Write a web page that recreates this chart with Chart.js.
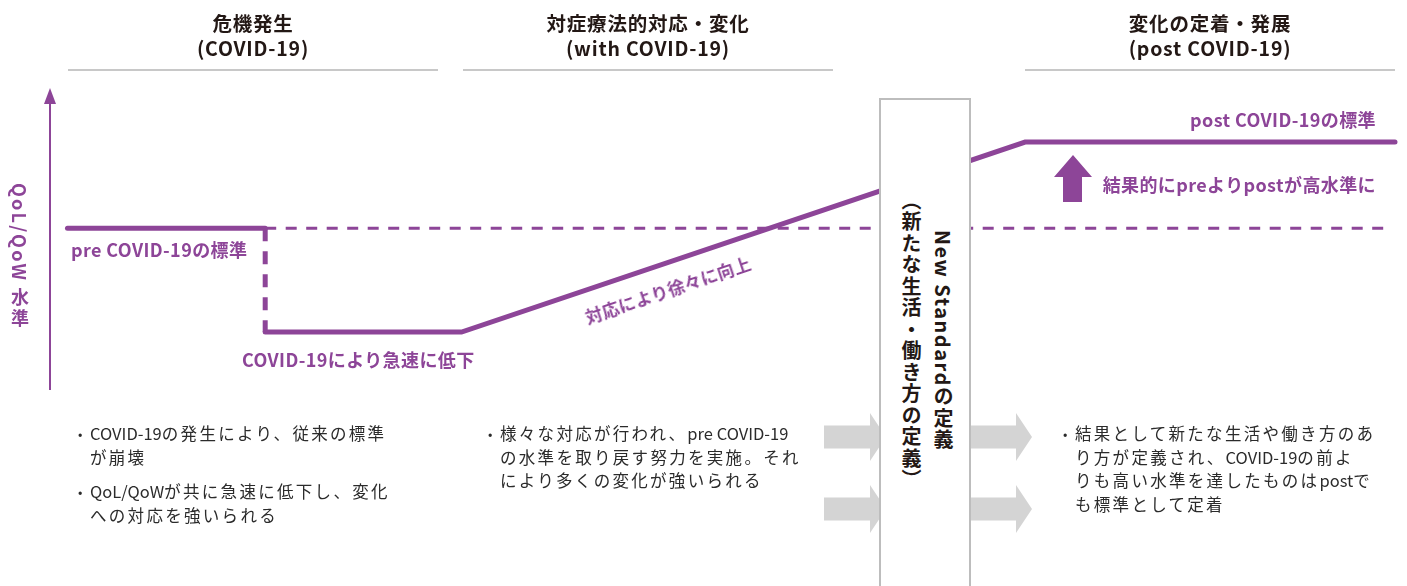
<!DOCTYPE html>
<html lang="ja">
<head>
<meta charset="utf-8">
<script src="https://cdn.jsdelivr.net/npm/chart.js@4"></script>
<style>
  body { margin: 0; background: #fff; }
  .stage { position: relative; width: 1407px; height: 586px; overflow: hidden; font-family: "Noto Sans CJK JP", sans-serif; }
  .stage canvas { position: absolute; left: 0; top: 0; }
  .phase { position: absolute; top: 10px; width: 370px; text-align: center; color: #231815; font-weight: 700; font-size: 19.5px; line-height: 25px; letter-spacing: 0.8px; }
  .phase-rule { position: absolute; top: 69px; width: 370px; height: 2px; background: #c8c8c8; }
  .note { position: absolute; top: 422px; color: #2b2b2b; font-size: 16.5px; line-height: 23.5px; letter-spacing: 2.3px; white-space: pre; }
  .note p { margin: 0 0 11px 0; padding-left: 12px; position: relative; }
  .note p::before { content: "•"; position: absolute; left: 0; top: 0; font-size: 13px; }
  .note .lat { letter-spacing: 0; }
  .label { position: absolute; color: #8d4598; font-weight: 700; font-size: 18px; line-height: 20px; letter-spacing: 0.4px; white-space: nowrap; }
  .box { position: absolute; left: 879px; top: 98px; width: 92px; height: 520px; box-sizing: border-box; border: 2px solid #bdbdbd; background: #fff; }
  .box-text { position: absolute; left: 14px; top: 88px; height: 305px; writing-mode: vertical-rl; text-align: center; color: #231815; font-weight: 700; font-size: 20px; line-height: 32px; letter-spacing: 1.5px; white-space: nowrap; }
  .ylab { position: absolute; left: 10px; top: 183px; writing-mode: vertical-rl; color: #8d4598; font-weight: 700; font-size: 18px; line-height: 20px; letter-spacing: 2.2px; white-space: nowrap; }
</style>
</head>
<body>
<div class="stage" id="stage">
  <canvas id="qolChart"></canvas>
</div>
<script>
// phases along the top
const phaseTitles = ['危機発生', '対症療法的対応・変化', '変化の定着・発展'];
const phaseSubtitles = ['(COVID-19)', '(with COVID-19)', '(post COVID-19)'];
const phaseLeft = [68, 463, 1025];

// QoL/QoW path: time (0-100) vs level (0-100)
const stageX = [1.3, 16, 16, 30.6, 72.5, 100];
const qolLevel = [53.6, 53.6, 19.2, 19.2, 82.1, 82.1];

// pre COVID-19 reference level (dashed)
const preLineX = [16, 99.3];
const preLineY = [53.6, 53.6];

const phaseNotes = [
    ['COVID-19の発生により、従来の標準\nが崩壊', 'QoL/QoWが共に急速に低下し、変化\nへの対応を強いられる'],
    ['様々な対応が行われ、pre COVID-19\nの水準を取り戻す努力を実施。それ\nにより多くの変化が強いられる'],
    ['結果として新たな生活や働き方のあ\nり方が定義され、COVID-19の前よ\nりも高い水準を達したものはpostで\nも標準として定着']
];
const noteLeft = [78, 488, 1063];

const purple = '#8d4598';
const stage = document.getElementById('stage');

phaseTitles.forEach((title, i) => {
    const head = document.createElement('div');
    head.className = 'phase';
    head.style.left = phaseLeft[i] + 'px';
    head.innerHTML = title + '<br>' + phaseSubtitles[i];
    stage.appendChild(head);

    const rule = document.createElement('div');
    rule.className = 'phase-rule';
    rule.style.left = phaseLeft[i] + 'px';
    stage.appendChild(rule);

    const note = document.createElement('div');
    note.className = 'note';
    note.style.left = noteLeft[i] + 'px';
    phaseNotes[i].forEach(txt => {
        const p = document.createElement('p');
        // latin runs keep tight spacing, kana/kanji get the wider pitch
        p.innerHTML = txt.replace(/[A-Za-z0-9\-\/ ]+/g, m => '<span class="lat">' + m + '</span>');
        note.appendChild(p);
    });
    stage.appendChild(note);
});

const addLabel = (text, css) => {
    const el = document.createElement('div');
    el.className = 'label';
    el.textContent = text;
    Object.assign(el.style, css);
    stage.appendChild(el);
    return el;
};

addLabel('pre COVID-19の標準', { left: '71px', top: '239px' });
addLabel('COVID-19により急速に低下', { left: '242px', top: '349px' });
addLabel('post COVID-19の標準', { right: '31px', top: '109px' });
addLabel('結果的にpreよりpostが高水準に', { right: '31px', top: '174px' });
const slope = addLabel('対応により徐々に向上', { left: '668px', top: '290px' });
slope.style.transform = 'translate(-50%, -50%) rotate(-18.6deg)';
slope.style.fontSize = '17px';

const ylab = document.createElement('div');
ylab.className = 'ylab';
ylab.textContent = 'QoL/QoW 水準';
stage.appendChild(ylab);

const box = document.createElement('div');
box.className = 'box';
box.innerHTML = '<div class="box-text">New Standardの定義<br>（新たな生活・働き方の定義）</div>';
stage.appendChild(box);

// axis arrow and flow arrows
const decorations = {
    id: 'decorations',
    beforeDatasetsDraw(chart) {
        const { ctx, chartArea } = chart;
        const ax = chartArea.left;
        ctx.save();
        ctx.strokeStyle = purple;
        ctx.fillStyle = purple;
        ctx.lineWidth = 2;
        ctx.beginPath();
        ctx.moveTo(ax, chartArea.bottom);
        ctx.lineTo(ax, chartArea.top + 14);
        ctx.stroke();
        ctx.beginPath();
        ctx.moveTo(ax - 6, chartArea.top + 16);
        ctx.lineTo(ax + 6, chartArea.top + 16);
        ctx.lineTo(ax, chartArea.top);
        ctx.closePath();
        ctx.fill();
        ctx.restore();
    },
    afterDatasetsDraw(chart) {
        const { ctx } = chart;
        ctx.save();
        ctx.fillStyle = '#d4d4d4';
        [824, 970].forEach(x0 => {
            [437, 509].forEach(yc => {
                ctx.beginPath();
                ctx.moveTo(x0, yc - 11.5);
                ctx.lineTo(x0 + 46, yc - 11.5);
                ctx.lineTo(x0 + 46, yc - 24);
                ctx.lineTo(x0 + 62, yc);
                ctx.lineTo(x0 + 46, yc + 24);
                ctx.lineTo(x0 + 46, yc + 11.5);
                ctx.lineTo(x0, yc + 11.5);
                ctx.closePath();
                ctx.fill();
            });
        });
        // upward arrow
        ctx.fillStyle = purple;
        ctx.beginPath();
        ctx.moveTo(1063, 202);
        ctx.lineTo(1063, 177);
        ctx.lineTo(1054, 177);
        ctx.lineTo(1073, 155);
        ctx.lineTo(1092, 177);
        ctx.lineTo(1082, 177);
        ctx.lineTo(1082, 202);
        ctx.closePath();
        ctx.fill();
        ctx.restore();
    }
};

const toPoints = (xs, ys) => xs.map((x, i) => ({ x: x, y: ys[i] }));
const solidLine = {
    borderColor: purple,
    borderWidth: 5,
    borderCapStyle: 'round',
    borderJoinStyle: 'miter',
    pointRadius: 0,
    tension: 0,
    clip: false
};

const ctx = document.getElementById('qolChart');

new Chart(ctx, {
    type: 'line',
    data: {
        datasets: [{
            ...solidLine,
            label: 'pre COVID-19の標準',
            data: toPoints(stageX.slice(0, 2), qolLevel.slice(0, 2))
        }, {
            ...solidLine,
            label: '急速に低下',
            data: toPoints(stageX.slice(1, 3), qolLevel.slice(1, 3)),
            borderDash: [13, 10],
            borderCapStyle: 'butt'
        }, {
            ...solidLine,
            label: '対応・定着',
            data: toPoints(stageX.slice(2), qolLevel.slice(2))
        }, {
            label: 'pre COVID-19',
            data: toPoints(preLineX, preLineY),
            borderColor: purple,
            borderWidth: 3,
            borderDash: [11, 9.5],
            pointRadius: 0,
            clip: false
        }]
    },
    options: {
        responsive: true,
        maintainAspectRatio: false,
        animation: false,
        layout: {
            padding: { left: 50, right: 12, top: 88, bottom: 196 }
        },
        scales: {
            x: { type: 'linear', min: 0, max: 100, display: false },
            y: { min: 0, max: 100, display: false }
        },
        plugins: {
            legend: { display: false },
            tooltip: { enabled: false }
        }
    },
    plugins: [decorations]
});
</script>
</body>
</html>
